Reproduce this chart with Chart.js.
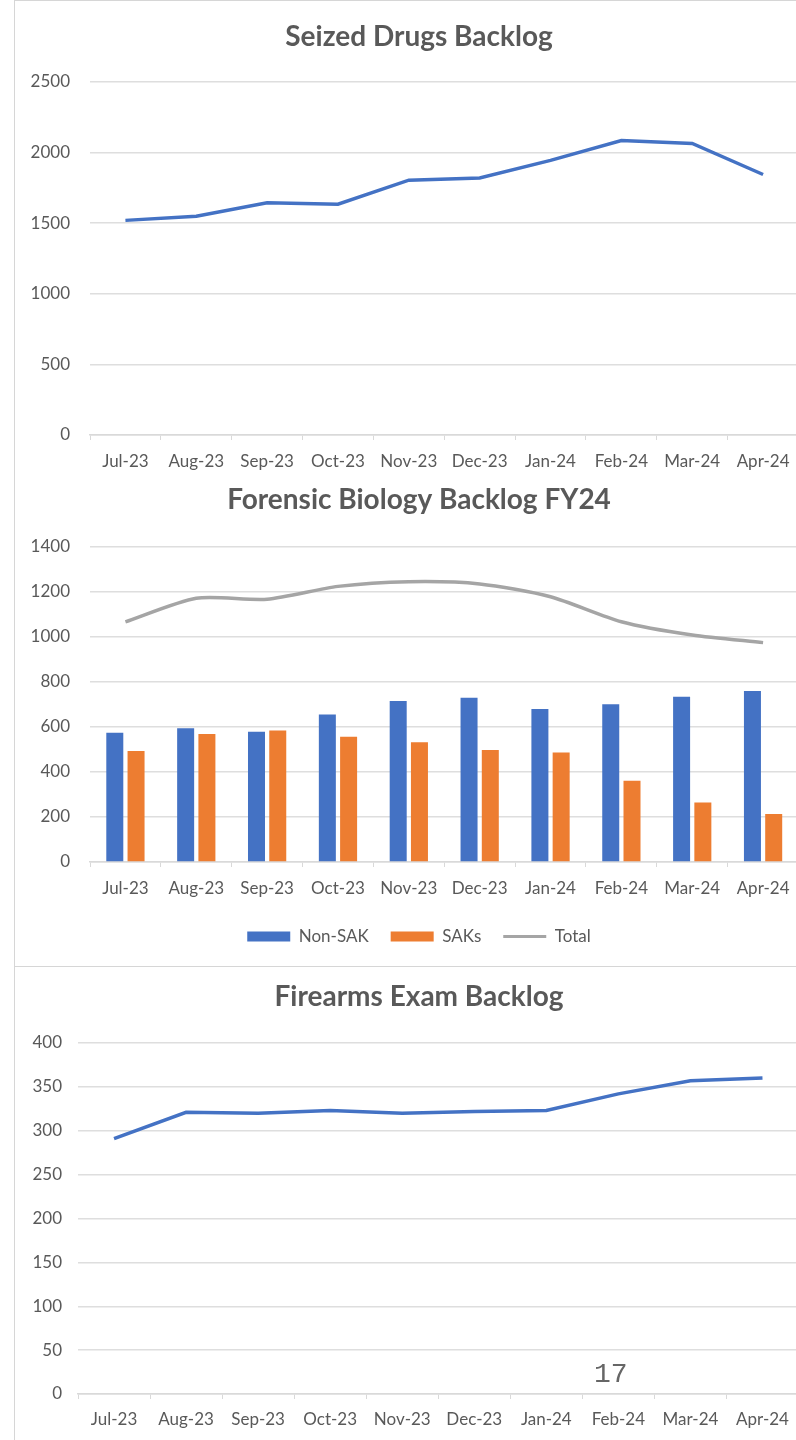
<!DOCTYPE html>
<html>
<head>
<meta charset="utf-8">
<script src="https://cdn.jsdelivr.net/npm/chart.js@4"></script>
<style>
  html, body { margin: 0; padding: 0; background: #fff; }
  #page { position: relative; width: 796px; height: 1440px; overflow: hidden; background: #fff; }
  .box { position: absolute; left: 15px; width: 808px; }
  .rule { position: absolute; background: #d6d6d6; }
  #pageNum { position: absolute; left: 594px; top: 1359px; font-family: "Liberation Mono", monospace; font-size: 28px; color: #666; }
</style>
</head>
<body>
<div id="page">
  <div class="box" style="top:0;height:470px;"><canvas id="drugsChart"></canvas></div>
  <div class="box" style="top:470px;height:495px;"><canvas id="bioChart"></canvas></div>
  <div class="box" style="top:968px;height:472px;"><canvas id="firearmsChart"></canvas></div>
  <div class="rule" style="left:14px;top:0;width:1px;height:1440px;"></div>
  <div class="rule" style="left:14px;top:0;width:782px;height:1px;"></div>
  <div class="rule" style="left:14px;top:966px;width:782px;height:1px;"></div>
  <div id="pageNum">17</div>
</div>
<script>
const months = ['Jul-23', 'Aug-23', 'Sep-23', 'Oct-23', 'Nov-23', 'Dec-23', 'Jan-24', 'Feb-24', 'Mar-24', 'Apr-24'];

const drugsBacklog = [1520, 1550, 1645, 1635, 1805, 1820, 1945, 2085, 2065, 1845];

const bioNonSak = [575, 594, 579, 656, 716, 730, 680, 701, 735, 760];
const bioSaks = [493, 569, 584, 557, 532, 498, 487, 361, 264, 213];
const bioTotal = [1067, 1172, 1168, 1225, 1246, 1236, 1179, 1068, 1009, 975];

const firearmsBacklog = [291, 321, 320, 323, 320, 322, 323, 342, 357, 360];

const FONT = 'Lato, "Open Sans", sans-serif';
const TEXT = '#595959';
const GRID = '#dedede';
const BLUE = '#4472C4';
const ORANGE = '#ED7D31';
const GRAY = '#A5A5A5';

Chart.defaults.font.family = FONT;
Chart.defaults.animation = false;

function baseOptions(title, yMax, step, yAxis, titlePad, xAxis) {
  return {
    responsive: true,
    maintainAspectRatio: false,
    layout: { padding: 0 },
    elements: { point: { radius: 0 } },
    plugins: {
      legend: { display: false },
      tooltip: { enabled: false },
      title: {
        display: true,
        text: title,
        color: TEXT,
        font: { size: 28, weight: 'bold' },
        padding: titlePad
      }
    },
    scales: {
      x: {
        offset: true,
        grid: { offset: true, drawOnChartArea: false, drawTicks: true, tickLength: 5, color: '#d9d9d9' },
        border: { color: '#d9d9d9', width: 1.5 },
        ticks: { color: TEXT, font: { size: 17 }, padding: xAxis.pad, maxRotation: 0, autoSkip: false },
        afterFit: s => { s.height = xAxis.h; }
      },
      y: {
        min: 0,
        max: yMax,
        ticks: { stepSize: step, padding: yAxis.pad, color: TEXT, font: { size: 17 }, callback: v => v },
        grid: { color: GRID, lineWidth: 1.5, drawTicks: false },
        border: { display: false },
        afterFit: s => { s.width = yAxis.w; }
      },
      // empty strip on the right so the plot stops short of the chart edge
      yRight: {
        position: 'right',
        grid: { display: false, drawTicks: false },
        ticks: { display: false },
        border: { display: false },
        afterFit: s => { s.width = 24.5; }
      }
    }
  };
}

new Chart(document.getElementById('drugsChart').getContext('2d'), {
  type: 'line',
  data: {
    labels: months,
    datasets: [
      { label: 'Backlog', data: drugsBacklog, borderColor: BLUE, borderWidth: 3.5, fill: false, tension: 0 }
    ]
  },
  options: baseOptions('Seized Drugs Backlog', 2500, 500, { w: 75, pad: 20 }, { top: 20.2, bottom: 28.2 }, { h: 35, pad: 11.8 })
});

const bioOpts = baseOptions('Forensic Biology Backlog FY24', 1400, 200, { w: 75, pad: 20 }, { top: 13.2, bottom: 30.2 }, { h: 44, pad: 11.8 });
bioOpts.layout = { padding: { bottom: 10 } };
bioOpts.plugins.legend = {
  display: true,
  position: 'bottom',
  labels: {
    color: TEXT,
    font: { size: 17 },
    usePointStyle: true,
    pointStyleWidth: 43,
    boxHeight: 10,
    padding: 22,
    generateLabels: chart => Chart.defaults.plugins.legend.labels.generateLabels(chart).map((item, i) => {
      item.pointStyle = i === 2 ? 'line' : 'rect';
      item.lineWidth = i === 2 ? 3 : 0;
      item.strokeStyle = i === 2 ? GRAY : item.fillStyle;
      return item;
    })
  }
};

new Chart(document.getElementById('bioChart').getContext('2d'), {
  data: {
    labels: months,
    datasets: [
      { type: 'bar', label: 'Non-SAK', data: bioNonSak, backgroundColor: BLUE, borderWidth: 0, categoryPercentage: 0.6, barPercentage: 0.8 },
      { type: 'bar', label: 'SAKs', data: bioSaks, backgroundColor: ORANGE, borderWidth: 0, categoryPercentage: 0.6, barPercentage: 0.8 },
      { type: 'line', label: 'Total', data: bioTotal, borderColor: GRAY, backgroundColor: GRAY, borderWidth: 3.5, fill: false, tension: 0.25 }
    ]
  },
  options: bioOpts
});

new Chart(document.getElementById('firearmsChart').getContext('2d'), {
  type: 'line',
  data: {
    labels: months,
    datasets: [
      { label: 'Backlog', data: firearmsBacklog, borderColor: BLUE, borderWidth: 3.5, fill: false, tension: 0 }
    ]
  },
  options: baseOptions('Firearms Exam Backlog', 400, 50, { w: 63, pad: 16 }, { top: 12.2, bottom: 29.2 }, { h: 46, pad: 10.8 })
});
</script>
</body>
</html>
